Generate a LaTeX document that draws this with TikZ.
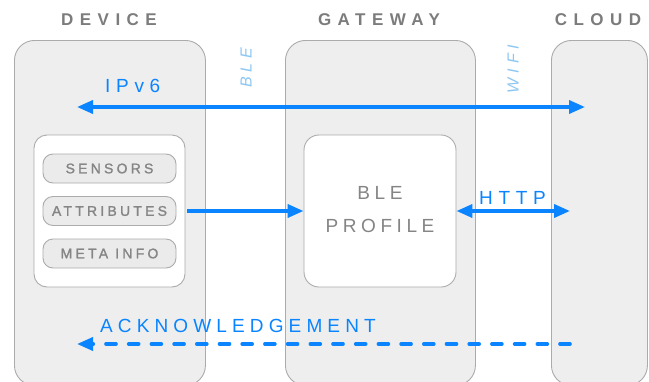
\documentclass[tikz,border=0pt]{standalone}
\usepackage{fontspec}
\setmainfont{Liberation Sans}
\newfontfamily\hdfont[LetterSpace=38]{Liberation Sans Bold}
\newfontfamily\pillfont[LetterSpace=23,FakeBold=1.4]{Liberation Sans}
\newfontfamily\sfont[LetterSpace=30]{Liberation Sans}
\newfontfamily\ackfont[LetterSpace=27]{Liberation Sans}
\newfontfamily\pfont[LetterSpace=24]{Liberation Sans}
\newfontfamily\itfont[LetterSpace=30]{Liberation Sans Italic}
\usetikzlibrary{arrows.meta}
\definecolor{boxfill}{HTML}{EEEEEE}
\definecolor{pillfill}{HTML}{EBEBEB}
\definecolor{boxline}{HTML}{ABABAB}
\definecolor{txtgray}{HTML}{858585}
\definecolor{hdgray}{HTML}{7C7C7C}
\definecolor{arrblue}{HTML}{0A84FF}
\definecolor{lightblue}{HTML}{8CC6F2}
\tikzset{
  column/.style={draw=boxline, fill=boxfill, line width=0.9pt, rounded corners=20pt, inner sep=0pt},
  whitebox/.style={draw=boxline, fill=white, line width=0.9pt, rounded corners=13pt, inner sep=0pt},
  pill/.style={draw=boxline, fill=pillfill, line width=0.9pt, rounded corners=10pt, inner sep=0pt,
    minimum width=133pt, minimum height=29pt, font=\pillfont\fontsize{14}{16}\selectfont, text=txtgray},
  header/.style={font=\hdfont\fontsize{17}{19}\selectfont, text=hdgray},
  medium/.style={font=\itfont\fontsize{16}{18}\selectfont, text=lightblue, rotate=90},
  bluelabel/.style={font=\sfont\fontsize{19}{21}\selectfont, text=arrblue, inner sep=0pt},
  proflabel/.style={font=\pfont\fontsize{19}{21}\selectfont, text=txtgray, anchor=base, inner sep=0pt},
  flow/.style={draw=arrblue, line width=3.6pt, -{Triangle[length=16pt,width=13pt]}},
  flow2/.style={draw=arrblue, line width=3.6pt, {Triangle[length=16pt,width=13pt]}-{Triangle[length=16pt,width=13pt]}},
}
\begin{document}
\begin{tikzpicture}[x=1pt,y=-1pt]
\useasboundingbox (0,0) rectangle (649,381);
\clip (0,0) rectangle (649,381);
% columns
\node[column, minimum width=191pt, minimum height=345pt, anchor=north west] (device) at (14,40) {};
\node[column, minimum width=190pt, minimum height=345pt, anchor=north west] (gateway) at (285,40) {};
\node[column, minimum width=96pt, minimum height=345pt, anchor=north west] (cloud) at (551,40) {};
% headers
\node[header] (hdev) at (109,20) {DEVICE};
\node[header] (hgw) at (379,20) {GATEWAY};
\node[header] (hcl) at (598,20) {CLOUD};
% media labels
\node[medium] (ble) at (246,68) {BLE};
\node[medium] (wifi) at (513,69) {WIFI};
% inner device box
\node[whitebox, minimum width=151pt, minimum height=152pt] (inner) at (109.5,211) {};
\node[pill] (sensors) at (109.5,168.5) {SENSORS};
\node[pill] (attr) at (109.5,211) {ATTRIBUTES};
\node[pill] (meta) at (109.5,253.5) {META INFO};
% BLE profile
\node[whitebox, minimum width=152pt, minimum height=152pt, rounded corners=15pt] (profile) at (380,211) {};
\node[proflabel] (pl1) at (380,199) {BLE};
\node[proflabel] (pl2) at (380,232) {PROFILE};
% coordinates
\coordinate (ipL) at (77,107);
\coordinate (ipR) at (585,107);
\coordinate (httpR) at (570,211);
\coordinate (ackR) at (570,344);
\coordinate (ackL) at (77,344);
% arrows
\draw[flow2] (ipL) -- (ipR);
\node[bluelabel, anchor=base west] (ipv6) at (105,92) {IPv6};
\draw[flow, shorten <=2pt] (inner.east) -- (profile.west);
\draw[flow2] (profile.east) -- (httpR);
\node[bluelabel, anchor=base west] (http) at (479,204) {HTTP};
\draw[flow, line cap=round, dash pattern=on 10pt off 12.7pt] (ackR) -- (ackL);
\node[bluelabel, font=\ackfont\fontsize{19}{21}\selectfont, anchor=base west] (ack) at (100,332) {ACKNOWLEDGEMENT};
\end{tikzpicture}
\end{document}
